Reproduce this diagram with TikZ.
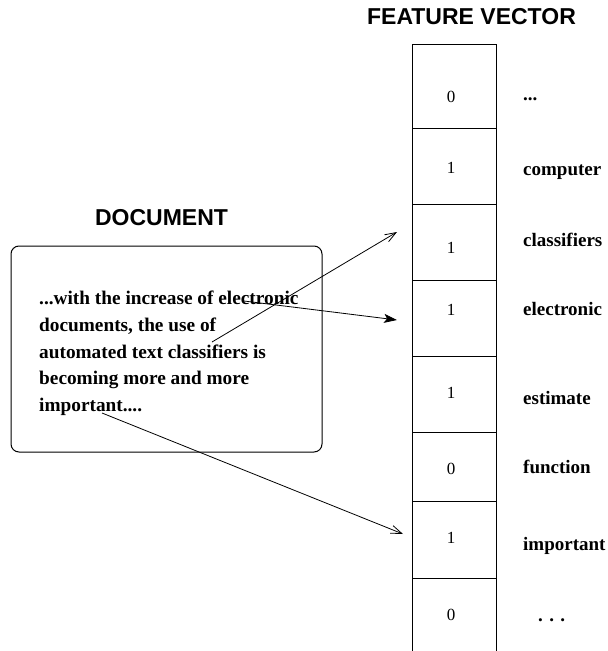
\documentclass[tikz,border=0pt]{standalone}
\usepackage{fontspec}
\setmainfont{Liberation Serif}
\setsansfont{Liberation Sans}
\usepackage{tikz}
\usetikzlibrary{arrows.meta}
\tikzset{
cell/.style={
draw,
line width=1pt,
minimum width=84pt,
inner sep=0pt,
anchor=north
},
title/.style={
font=\fontsize{23}{27}\selectfont\sffamily\bfseries,
inner sep=0pt,
anchor=base
},
bit/.style={
font=\fontsize{17}{20}\selectfont,
inner sep=0pt,
anchor=base
},
term/.style={
font=\fontsize{19}{23}\selectfont\bfseries,
inner sep=0pt,
anchor=base west
},
doctext/.style={
font=\fontsize{19.3}{26.7}\selectfont\bfseries,
align=left,
inner sep=0pt,
anchor=north west
},
arrow/.style={
-{Straight Barb[length=11pt,width=8pt]},
line width=0.8pt
},
fillarrow/.style={
-{Stealth[length=13pt,width=9pt,inset=3pt]},
line width=0.8pt
}
}

\begin{document}
\begin{tikzpicture}[x=1pt,y=-1pt]
\useasboundingbox (0,0) rectangle (608,651);

% titles
\node[title](doctitle) at (161.5,225){DOCUMENT};
\node[title](vectitle) at (471.5,24){FEATURE VECTOR};

% the document
\node[draw,line width=1pt,rounded corners=8pt,minimum width=311pt,minimum height=206pt](docbox) at (166.5,349){};
\node[doctext](doctext) at (39,291){...with the increase of electronic\\documents, the use of\\automated text classifiers is\\becoming more and more\\important....};

% the vector
\node[cell,minimum height=84pt](cell1) at (454,44){};
\node[cell,minimum height=76pt](cell2) at (454,128){};
\node[cell,minimum height=76pt](cell3) at (454,204){};
\node[cell,minimum height=76pt](cell4) at (454,280){};
\node[cell,minimum height=76pt](cell5) at (454,356){};
\node[cell,minimum height=69pt](cell6) at (454,432){};
\node[cell,minimum height=77pt](cell7) at (454,501){};
\node[cell,minimum height=90pt](cell8) at (454,578){};

\node[bit](bit1) at (451,102){0};
\node[bit](bit2) at (451,173){1};
\node[bit](bit3) at (451,253){1};
\node[bit](bit4) at (451,315){1};
\node[bit](bit5) at (451,398){1};
\node[bit](bit6) at (451,474){0};
\node[bit](bit7) at (451,543){1};
\node[bit](bit8) at (451,620){0};

\node[term](term1) at (523,100){...};
\node[term](term2) at (523,175){computer};
\node[term](term3) at (523,246){classifiers};
\node[term](term4) at (523,315){electronic};
\node[term](term5) at (523,404){estimate};
\node[term](term6) at (523,473){function};
\node[term](term7) at (523,550){important};
\node[term](term8) at (538,621){. . .};

% words to entries
\coordinate(fromclass) at (212,342);
\coordinate(fromelec) at (244,301);
\coordinate(fromimp) at (102,413);
\coordinate(toclass) at (397,232);
\coordinate(toelec) at (397,320);
\coordinate(toimp) at (403,534);

\draw[arrow](fromclass)--(toclass);
\draw[fillarrow](fromelec)--(toelec);
\draw[arrow](fromimp)--(toimp);

\end{tikzpicture}
\end{document}
